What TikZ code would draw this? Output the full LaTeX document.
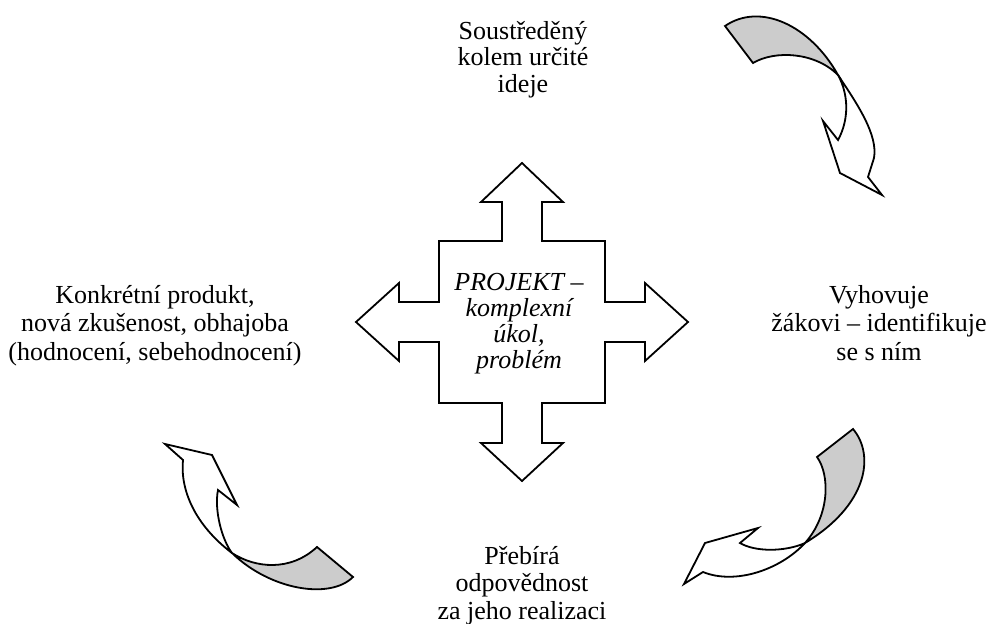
\documentclass[tikz,border=0pt]{standalone}
\usepackage{fontspec}
\setmainfont{Liberation Serif}
\definecolor{ribbon}{HTML}{CCCCCC}
\begin{document}
\begin{tikzpicture}[x=1pt,y=-1pt,
  outline/.style={draw=black,line width=1.8pt,line join=miter},
  back/.style={outline,fill=ribbon},
  front/.style={outline,fill=white},
  lbl/.style={align=center,inner sep=0pt,anchor=base,font=\fontsize{26}{28.5}\selectfont},
  tightlbl/.style={lbl,font=\fontsize{26}{26.5}\selectfont},
  midlbl/.style={lbl,font=\fontsize{26}{27.5}\selectfont},
  clbl/.style={align=center,inner sep=0pt,anchor=base,font=\fontsize{26}{26}\selectfont\itshape}]
\useasboundingbox (0,0) rectangle (989,624);
% central cross
\draw[front] (522,163) -- (563,202) -- (542,202) -- (542,241) -- (605,241) -- (605,302)
  -- (645,302) -- (645,283) -- (688,322) -- (645,361) -- (645,342) -- (605,342)
  -- (605,403) -- (542,403) -- (542,443) -- (563,443) -- (522,481) -- (481,443)
  -- (502,443) -- (502,403) -- (439,403) -- (439,342) -- (399,342) -- (399,361)
  -- (356,322) -- (399,283) -- (399,302) -- (439,302) -- (439,241) -- (502,241)
  -- (502,202) -- (481,202) -- cycle;
\node[clbl] (proj) at (519,368) {PROJEKT –\\komplexní\\úkol,\\problém};
% labels
\node[tightlbl] (top) at (523,92) {Soustředěný\\kolem určité\\ideje};
\node[lbl] (left) at (155,360) {Konkrétní produkt,\\nová zkušenost, obhajoba\\(hodnocení, sebehodnocení)};
\node[lbl] (right) at (879,360) {Vyhovuje\\žákovi – identifikuje\\se s ním};
\node[midlbl] (bottom) at (522,619) {Přebírá\\odpovědnost\\za jeho realizaci};
% top-right curved arrow
\coordinate (trX) at (838,75);
\draw[back] (725,26) .. controls (760,2) and (810,25) .. (trX)
  .. controls (815,52) and (775,50) .. (753,63) -- cycle;
\draw[front] (trX) .. controls (858,105) and (878,135) .. (874,158) -- (868,177)
  -- (882,195) -- (840,173) -- (823,121) -- (838,140)
  .. controls (849,120) and (849,95) .. (trX);
% bottom-right curved arrow
\coordinate (brX) at (805,543);
\draw[back] (853,429) .. controls (875,455) and (868,505) .. (brX)
  .. controls (830,515) and (830,475) .. (817,457) -- cycle;
\draw[front] (brX) .. controls (780,570) and (735,585) .. (703,572) -- (684,584)
  -- (705,543) -- (758,528) -- (740,543)
  .. controls (755,552) and (785,552) .. (brX);
% bottom-left curved arrow
\coordinate (blX) at (232,553);
\draw[back] (317,547) .. controls (290,572) and (255,568) .. (blX)
  .. controls (270,590) and (330,600) .. (353,577) -- cycle;
\draw[front] (blX) .. controls (195,525) and (180,490) .. (183,460) -- (165,444)
  -- (212,455) -- (237,505) -- (218,490)
  .. controls (214,510) and (222,540) .. (blX);
\end{tikzpicture}
\end{document}
